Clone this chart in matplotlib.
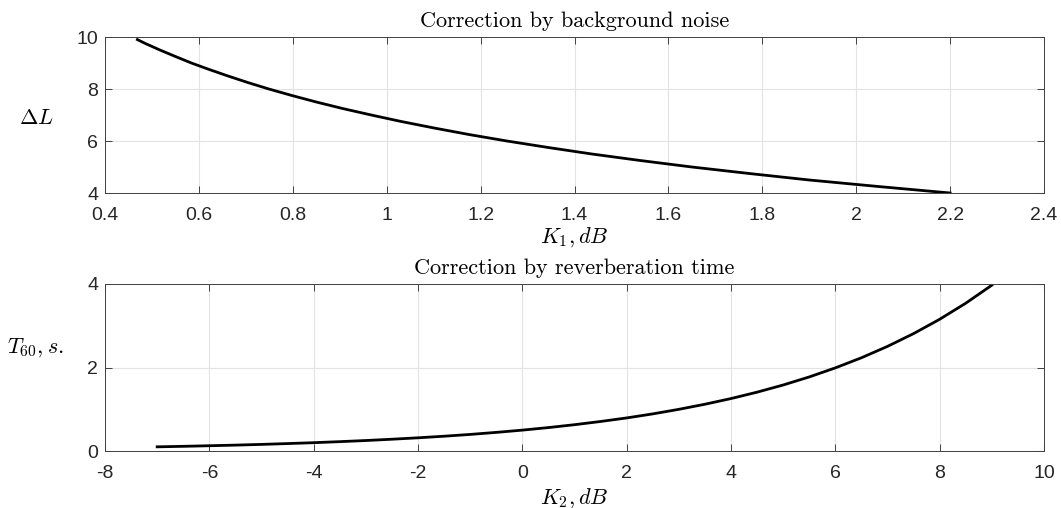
import matplotlib
matplotlib.use("Agg")
import matplotlib.pyplot as plt

# Top panel: background-noise correction
delta_L = [4.0, 4.25, 4.5, 4.75, 5.0, 5.25, 5.5, 5.75, 6.0, 6.25, 6.5, 6.75, 7.0,
           7.25, 7.5, 7.75, 8.0, 8.25, 8.5, 8.75, 9.0, 9.25, 9.5, 9.75, 9.9]
K1 = [2.20, 2.047, 1.90, 1.772, 1.65, 1.540, 1.437, 1.344, 1.256, 1.175, 1.101,
      1.031, 0.967, 0.906, 0.850, 0.798, 0.749, 0.704, 0.662, 0.622, 0.584,
      0.550, 0.517, 0.486, 0.469]

# Bottom panel: reverberation-time correction
K2 = [-7, -6.5, -6, -5.5, -5, -4.5, -4, -3.5, -3, -2.5, -2, -1.5, -1, -0.5, 0,
      0.5, 1, 1.5, 2, 2.5, 3, 3.5, 4, 4.5, 5, 5.5, 6, 6.5, 7, 7.5, 8, 8.5, 9]
T60 = [0.100, 0.112, 0.126, 0.141, 0.158, 0.178, 0.199, 0.224, 0.251, 0.282,
       0.316, 0.354, 0.397, 0.446, 0.500, 0.561, 0.630, 0.707, 0.792, 0.889,
       0.998, 1.120, 1.256, 1.409, 1.581, 1.774, 1.991, 2.233, 2.506, 2.812,
       3.155, 3.540, 3.972]

top_xticks = [0.4, 0.6, 0.8, 1, 1.2, 1.4, 1.6, 1.8, 2, 2.2, 2.4]
top_xlabels = ["0.4", "0.6", "0.8", "1", "1.2", "1.4", "1.6", "1.8", "2", "2.2", "2.4"]
top_yticks = [4, 6, 8, 10]
bot_xticks = [-8, -6, -4, -2, 0, 2, 4, 6, 8, 10]
bot_xlabels = ["-8", "-6", "-4", "-2", "0", "2", "4", "6", "8", "10"]
bot_yticks = [0, 2, 4]

plt.rcParams["mathtext.fontset"] = "cm"
plt.rcParams["font.family"] = ["Liberation Sans", "DejaVu Sans"]

W, H = 1061, 508
fig = plt.figure(figsize=(W / 100, H / 100), dpi=100)

def px_axes(x0, y0, x1, y1):
    return fig.add_axes([x0 / W, 1 - y1 / H, (x1 - x0) / W, (y1 - y0) / H])

ax1 = px_axes(105, 37, 1044, 193)
ax2 = px_axes(105, 284, 1044, 451)

spine_c = "#404040"
for ax in (ax1, ax2):
    ax.grid(True, color="#e3e3e3", linewidth=0.8)
    ax.set_axisbelow(True)
    for s in ax.spines.values():
        s.set_color(spine_c)
        s.set_linewidth(0.7)
    ax.tick_params(direction="in", top=True, right=True, length=5, width=0.7,
                   color=spine_c, labelcolor="#262626", labelsize=14)
    ax.tick_params(axis="x", pad=10)
    ax.tick_params(axis="y", pad=5)

ax1.plot(K1, delta_L, color="black", linewidth=2.0)
ax1.set_xlim(0.4, 2.4)
ax1.set_ylim(4, 10)
ax1.set_xticks(top_xticks)
ax1.set_xticklabels(top_xlabels)
ax1.set_yticks(top_yticks)
ax1.set_title("Correction by background noise", family="cmr10", fontsize=16, pad=7)
ax1.set_xlabel(r"$K_1, dB$", fontsize=16, labelpad=1)
ax1.set_ylabel(r"$\Delta L$", fontsize=16, rotation=0, va="center", ha="center")
ax1.yaxis.set_label_coords(-0.073, 0.48)

ax2.plot(K2, T60, color="black", linewidth=2.0)
ax2.set_xlim(-8, 10)
ax2.set_ylim(0, 4)
ax2.set_xticks(bot_xticks)
ax2.set_xticklabels(bot_xlabels)
ax2.set_yticks(bot_yticks)
ax2.set_title("Correction by reverberation time", family="cmr10", fontsize=16, pad=7)
ax2.set_xlabel(r"$K_2, dB$", fontsize=16, labelpad=3)
ax2.set_ylabel(r"$T_{60}, s.$", fontsize=16, rotation=0, va="center", ha="center")
ax2.yaxis.set_label_coords(-0.0745, 0.62)

fig.savefig("out.png", dpi=100)
